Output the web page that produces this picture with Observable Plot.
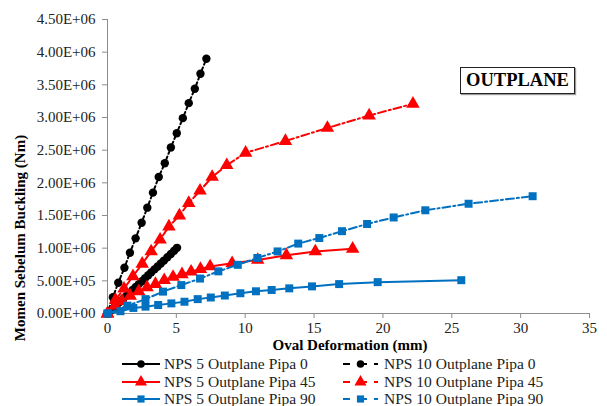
<!DOCTYPE html>
<html>
<head>
<meta charset="utf-8">
<script src="https://cdn.jsdelivr.net/npm/d3@7"></script>
<script src="https://cdn.jsdelivr.net/npm/@observablehq/plot@0.6"></script>
<style>
  html, body { margin: 0; padding: 0; background: #fff; }
  #wrap { position: relative; width: 607px; height: 406px; font-family: 'Liberation Serif', 'Times New Roman', serif; }
  #wrap svg, #wrap svg text { font-family: 'Liberation Serif', 'Times New Roman', serif !important; }
  #badge { position: absolute; left: 460px; top: 67px; width: 113px; height: 25px; border: 1.6px solid #222;
           box-shadow: 1px 1px 1px #999; font-weight: bold; font-size: 18.5px; line-height: 25px; text-align: center; color: #000; }
</style>
</head>
<body>
<div id="wrap"><div id="badge">OUTPLANE</div></div>
<script>
// ---- Data (oval deformation in mm, moment in Nm) ----
const xTicks = [0, 5, 10, 15, 20, 25, 30, 35];
const yTicks = [0, 5e5, 1e6, 1.5e6, 2e6, 2.5e6, 3e6, 3.5e6, 4e6, 4.5e6];

const nps5_pipa0_x = [0, 0.23, 0.46, 0.68, 0.91, 1.14, 1.37, 1.6, 1.82, 2.05, 2.28, 2.5, 2.73, 2.96, 3.18, 3.41, 3.64, 3.87, 4.1, 4.35, 4.6, 4.84, 5.05];
const nps5_pipa0_y = [0, 0.45e5, 0.9e5, 1.35e5, 1.8e5, 2.25e5, 2.7e5, 3.15e5, 3.6e5, 4.05e5, 4.5e5, 4.95e5, 5.4e5, 5.85e5, 6.3e5, 6.75e5, 7.2e5, 7.65e5, 8.1e5, 8.6e5, 9.1e5, 9.6e5, 10.05e5];

const nps10_pipa0_x = [0, 0.39, 0.78, 1.23, 1.63, 2.04, 2.48, 2.89, 3.3, 3.72, 4.16, 4.6, 5.03, 5.47, 5.9, 6.34, 6.75, 7.18];
const nps10_pipa0_y = [0, 0.25e6, 0.47e6, 0.7e6, 0.93e6, 1.15e6, 1.39e6, 1.62e6, 1.85e6, 2.09e6, 2.3e6, 2.54e6, 2.76e6, 2.99e6, 3.22e6, 3.44e6, 3.67e6, 3.9e6];

const nps5_pipa45_x = [0, 0.55, 1.06, 1.65, 2.27, 2.87, 3.48, 4.12, 4.76, 5.41, 6.07, 6.75, 7.45, 9.05, 10.91, 12.99, 15.09, 17.8];
const nps5_pipa45_y = [0, 1.2e5, 1.9e5, 2.7e5, 3.4e5, 4.0e5, 4.5e5, 5.1e5, 5.6e5, 6.0e5, 6.4e5, 6.8e5, 7.2e5, 7.7e5, 8.2e5, 8.9e5, 9.5e5, 9.9e5];

const nps10_pipa45_x = [0, 0.58, 1.2, 1.85, 2.52, 3.17, 3.82, 4.46, 5.22, 5.9, 6.72, 7.6, 8.66, 10.03, 12.92, 15.97, 19.0, 22.18];
const nps10_pipa45_y = [0, 0.21e6, 0.38e6, 0.57e6, 0.76e6, 0.95e6, 1.13e6, 1.33e6, 1.5e6, 1.69e6, 1.88e6, 2.09e6, 2.27e6, 2.46e6, 2.64e6, 2.84e6, 3.03e6, 3.21e6];

const nps5_pipa90_x = [0, 0.94, 1.88, 2.76, 3.68, 4.64, 5.59, 6.55, 7.5, 8.52, 9.65, 10.78, 11.92, 13.2, 14.85, 16.82, 19.62, 25.69];
const nps5_pipa90_y = [0, 0.35e5, 0.85e5, 1.05e5, 1.3e5, 1.55e5, 1.8e5, 2.2e5, 2.45e5, 2.75e5, 3.1e5, 3.4e5, 3.6e5, 3.85e5, 4.15e5, 4.5e5, 4.8e5, 5.1e5];

const nps10_pipa90_x = [0, 1.45, 2.76, 4.03, 5.36, 6.72, 8.05, 9.46, 10.88, 12.35, 13.85, 15.38, 17.03, 18.85, 20.78, 23.08, 26.22, 30.87];
const nps10_pipa90_y = [0, 0.12e6, 0.22e6, 0.335e6, 0.435e6, 0.535e6, 0.645e6, 0.745e6, 0.85e6, 0.95e6, 1.07e6, 1.155e6, 1.26e6, 1.37e6, 1.47e6, 1.58e6, 1.68e6, 1.795e6];

const seriesNames = ["NPS 5 Outplane Pipa 0", "NPS 10 Outplane Pipa 0", "NPS 5 Outplane Pipa 45", "NPS 10 Outplane Pipa 45", "NPS 5 Outplane Pipa 90", "NPS 10 Outplane Pipa 90"];
const seriesColors = ["#000000", "#000000", "#ff0000", "#ff0000", "#0070c0", "#0070c0"];
const seriesSymbols = ["circle", "circle", "triangle", "triangle", "square", "square"];
const seriesX = [nps5_pipa0_x, nps10_pipa0_x, nps5_pipa45_x, nps10_pipa45_x, nps5_pipa90_x, nps10_pipa90_x];
const seriesY = [nps5_pipa0_y, nps10_pipa0_y, nps5_pipa45_y, nps10_pipa45_y, nps5_pipa90_y, nps10_pipa90_y];

// ---- Build ----
const DASH = "8,3,2,3";
const series = seriesNames.map((name, i) => ({
  name, color: seriesColors[i], symbol: seriesSymbols[i],
  dashed: name.startsWith("NPS 10"),
  rows: seriesX[i].map((x, j) => ({x, y: seriesY[i][j]}))
}));
const symR = {circle: 4.2, triangle: 5, square: 4.5};

function sci(v) {
  if (v === 0) return "0.00E+00";
  const e = Math.floor(Math.log10(Math.abs(v)) + 1e-9);
  const m = v / Math.pow(10, e);
  return m.toFixed(2) + "E" + (e >= 0 ? "+" : "-") + String(Math.abs(e)).padStart(2, "0");
}

const marks = [
  Plot.ruleX([0], {stroke: "#8c8c8c", strokeWidth: 1}),
  Plot.ruleY([0], {stroke: "#8c8c8c", strokeWidth: 1}),
  Plot.axisY({ticks: yTicks, tickFormat: sci, tickSize: 5, tickPadding: 7, fontSize: 15, stroke: "#8c8c8c", color: "#222", label: null}),
  Plot.axisX({ticks: xTicks, tickFormat: d => String(d), tickSize: 5, tickPadding: 4, fontSize: 15, stroke: "#8c8c8c", color: "#222", label: null})
];
for (const s of series) {
  marks.push(Plot.line(s.rows, {x: "x", y: "y", stroke: s.color, strokeWidth: 2, strokeDasharray: s.dashed ? DASH : null}));
  marks.push(Plot.dot(s.rows, {x: "x", y: "y", symbol: s.symbol, r: symR[s.symbol], fill: s.color, stroke: "none"}));
}

const chart = Plot.plot({
  width: 607, height: 406,
  marginLeft: 107, marginRight: 18, marginTop: 19, marginBottom: 93,
  x: {domain: [0, 35]},
  y: {domain: [0, 4.5e6]},
  style: {background: "#fff", overflow: "visible"},
  marks
});

const svg = d3.select(chart);
// Axis titles
svg.append("text").attr("x", 350).attr("y", 350).attr("text-anchor", "middle")
  .attr("font-weight", "bold").attr("font-size", 15).attr("fill", "#000")
  .text("Oval Deformation (mm)");
svg.append("text").attr("transform", "translate(25,238) rotate(-90)").attr("text-anchor", "middle")
  .attr("font-weight", "bold").attr("font-size", 15).attr("fill", "#000")
  .text("Momen Sebelum Buckling (Nm)");

// Legend
const colX = [[122, 160, 164], [343, 378, 384]]; // line start, line end, text x
const rowY = [364, 382, 399];
const symGen = {circle: d3.symbolCircle, triangle: d3.symbolTriangle, square: d3.symbolSquare};
series.forEach((s, i) => {
  const c = colX[i % 2], yy = rowY[Math.floor(i / 2)];
  const g = svg.append("g");
  g.append("line").attr("x1", c[0]).attr("x2", c[1]).attr("y1", yy).attr("y2", yy)
    .attr("stroke", s.color).attr("stroke-width", 2).attr("stroke-dasharray", s.dashed ? "7,10,7" : null);
  const r = symR[s.symbol] * 0.9;
  g.append("path").attr("d", d3.symbol(symGen[s.symbol], Math.PI * r * r)())
    .attr("transform", `translate(${(c[0] + c[1]) / 2},${yy})`).attr("fill", s.color);
  g.append("text").attr("x", c[2]).attr("y", yy).attr("dy", "0.35em").attr("text-anchor", "start")
    .attr("font-size", 15.5).attr("fill", "#222").text(s.name);
});

document.getElementById("wrap").prepend(chart);
</script>
</body>
</html>
